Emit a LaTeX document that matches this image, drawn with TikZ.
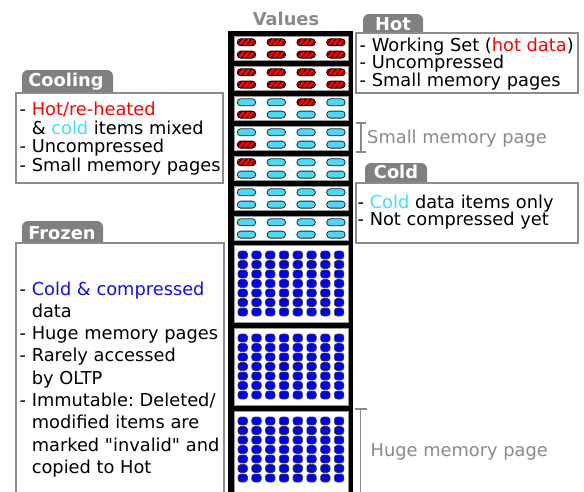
\documentclass[tikz,border=0pt]{standalone}
\usepackage{fontspec}
\setmainfont{DejaVu Sans}
\definecolor{hotred}{HTML}{FF0000}
\definecolor{coldcyan}{HTML}{4CD9F5}
\definecolor{txtcyan}{HTML}{44DDFF}
\definecolor{frzblue}{HTML}{0000F0}
\definecolor{txtblue}{HTML}{1010E8}
\definecolor{tabgray}{HTML}{808080}
\definecolor{boxgray}{HTML}{8C8C8C}
\definecolor{lblgray}{HTML}{8A8A8A}
\newcommand\valitem[3]{%
  \ifnum#3=1
    \begin{scope}
      \clip[rounded corners=3.5pt] (#1-9.25,#2-3.5) rectangle (#1+9.25,#2+3.5);
      \fill[hotred] (#1-10,#2-4) rectangle (#1+10,#2+4);
      \foreach \s in {0,1,2,3}
        \draw[line width=0.75pt] (#1-10.5+5*\s,#2+4) -- (#1-4.5+5*\s,#2-4);
    \end{scope}
    \draw[line width=0.8pt, rounded corners=3.5pt] (#1-9.25,#2-3.5) rectangle (#1+9.25,#2+3.5);
  \else
    \draw[line width=0.8pt, fill=coldcyan, draw=black!85, rounded corners=3.5pt] (#1-9.25,#2-3.5) rectangle (#1+9.25,#2+3.5);
  \fi}
\frenchspacing
\begin{document}
\begin{tikzpicture}[x=1pt,y=-1pt,
  txt/.style={anchor=base west, inner sep=0pt, font=\fontsize{17.8}{18}\selectfont},
  lbl/.style={anchor=base west, inner sep=0pt, text=lblgray, font=\fontsize{17.8}{18}\selectfont},
  tabtxt/.style={anchor=base, inner sep=0pt, text=white, font=\fontsize{17.8}{18}\selectfont\bfseries},
  infobox/.style={draw=boxgray, line width=1.4pt, fill=white},
  tabshape/.style={fill=tabgray, rounded corners=6pt},
  pagebox/.style={fill=white, draw=black!40, line width=0.6pt},
  dotbox/.style={fill=frzblue, draw=black!75, line width=0.6pt, rounded corners=2.8pt},
  bracket/.style={draw=lblgray, line width=1.8pt}
]
\useasboundingbox (0,0) rectangle (584,491);
\clip (0,0) rectangle (584,491);
\fill[white] (0,0) rectangle (584,491);

% ---- title
\node[anchor=base, inner sep=0pt, text=lblgray, font=\fontsize{17.8}{18}\selectfont\bfseries] (title) at (286,25) {Values};

% ---- value column
\fill[black] (228,31) rectangle (353,500);
\foreach \t/\a/\b/\c/\d/\e/\f/\g/\h in {36/1/1/1/1/1/1/1/1, 66/1/1/1/1/1/1/1/1, 96/0/0/1/0/1/0/0/0, 126/0/0/0/0/1/0/0/0, 156/1/0/0/0/0/0/0/0, 186/0/0/0/0/0/0/0/0, 216/0/0/0/0/0/0/0/0}{
  \draw[pagebox] (234,\t) rectangle (348,\t+24);
  \valitem{246.5}{\t+6.3}{\a}
  \valitem{276.3}{\t+6.3}{\b}
  \valitem{306.1}{\t+6.3}{\c}
  \valitem{335.9}{\t+6.3}{\d}
  \valitem{246.5}{\t+18.6}{\e}
  \valitem{276.3}{\t+18.6}{\f}
  \valitem{306.1}{\t+18.6}{\g}
  \valitem{335.9}{\t+18.6}{\h}
}
\foreach \t/\hh in {245/77, 328/77, 411/95}{
  \draw[pagebox] (234,\t) rectangle (348,\t+\hh);
  \foreach \i in {0,...,6}
    \foreach \j in {0,...,7}
      \draw[dotbox] (238+13.76*\j,\t+6+9.5*\i) rectangle (247.5+13.76*\j,\t+14+9.5*\i);
}

% ---- Hot
\fill[tabshape] (363,14) rectangle (423,40);
\draw[infobox] (356,33) rectangle (578,93);
\node[tabtxt] (hottab) at (393,30) {Hot};
\node[txt] (hot1) at (359.5,51) {- Working Set (\textcolor{hotred}{hot data})};
\node[txt] (hot2) at (359.5,68.5) {- Uncompressed};
\node[txt] (hot3) at (359.5,86) {- Small memory pages};

% ---- small page bracket
\draw[bracket] (356,123) -- (366,123) (361,123) -- (361,152) (356,152) -- (366,152);
\node[lbl] (smallpg) at (367,143) {Small memory page};

% ---- Cooling
\fill[tabshape] (22,70) rectangle (113,100);
\draw[infobox] (16,93) rectangle (223,183);
\node[tabtxt] (cooltab) at (66,86) {Cooling};
\node[txt] (cool1) at (19.5,115.7) {- \textcolor{hotred}{Hot/re-heated}};
\node[txt] (cool2) at (19.5,134) {\hphantom{-\ }\& \textcolor{txtcyan}{cold} items mixed};
\node[txt] (cool3) at (19.5,152.5) {- Uncompressed};
\node[txt] (cool4) at (19.5,171) {- Small memory pages};

% ---- Cold
\fill[tabshape] (365,163) rectangle (427,190);
\draw[infobox] (356,183) rectangle (578,243);
\node[tabtxt] (coldtab) at (396,178) {Cold};
\node[txt] (cold1) at (357.5,208.3) {- \textcolor{txtcyan}{Cold} data items only};
\node[txt] (cold2) at (357.5,225) {- Not compressed yet};

% ---- Frozen
\fill[tabshape] (22,221) rectangle (103,250);
\draw[infobox] (16,243) rectangle (224,520);
\node[tabtxt] (frztab) at (62,239) {Frozen};
\node[txt] (frz1) at (19.5,295) {- \textcolor{txtblue}{Cold \& compressed}};
\node[txt] (frz2) at (19.5,317.3) {\hphantom{-\ }data};
\node[txt] (frz3) at (19.5,339.6) {- Huge memory pages};
\node[txt] (frz4) at (19.5,361.9) {- Rarely accessed};
\node[txt] (frz5) at (19.5,384.2) {\hphantom{-\ }by OLTP};
\node[txt] (frz6) at (19.5,406.5) {- Immutable: Deleted/};
\node[txt] (frz7) at (19.5,428.8) {\hphantom{-\ }modified items are};
\node[txt] (frz8) at (19.5,451.1) {\hphantom{-\ }marked \textquotedbl invalid\textquotedbl\ and};
\node[txt] (frz9) at (19.5,473.4) {\hphantom{-\ }copied to Hot};

% ---- huge page bracket
\draw[bracket] (355,409.3) -- (366.5,409.3) (360.5,409.3) -- (360.5,500);
\node[lbl] (hugepg) at (370.5,456) {Huge memory page};
\end{tikzpicture}
\end{document}
